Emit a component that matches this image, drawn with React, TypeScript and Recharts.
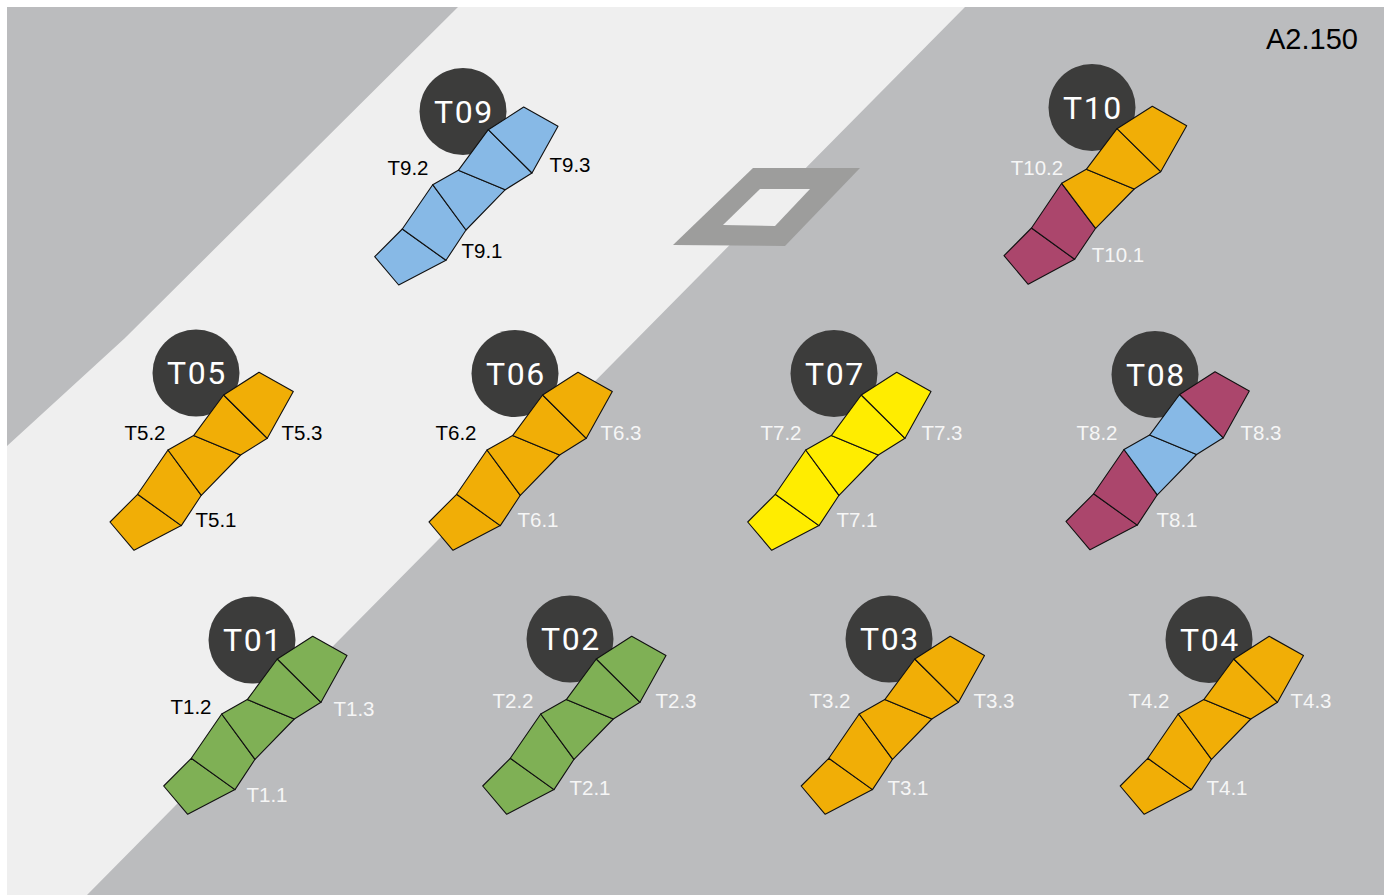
import React from "react";
import { ScatterChart, Scatter, XAxis, YAxis } from "recharts";

type Pt = { x: number; y: number };

const width = 1389;
const height = 895;

const GRAY = "#bbbcbe";
const LIGHT = "#efefef";
const FRAME = "#9d9d9c";
const DARK = "#3c3c3b";
const COLORS: Record<string, string> = {
  blue: "#87b9e6",
  orange: "#f1ae06",
  green: "#7fb055",
  yellow: "#ffed00",
  maroon: "#ab466c"
};

// ground shapes
const groundArea: Pt[] = [
  { x: 7, y: 7 }, { x: 1384, y: 7 }, { x: 1384, y: 895 }, { x: 7, y: 895 }
];
const lightStripe: Pt[] = [
  { x: 458, y: 7 }, { x: 965, y: 7 }, { x: 87, y: 895 }, { x: 7, y: 895 }, { x: 7, y: 446 }, { x: 125, y: 338 }
];
const frameOuter: Pt[] = [
  { x: 753, y: 168 }, { x: 860, y: 168 }, { x: 785, y: 246 }, { x: 673, y: 245 }
];
const frameInner: Pt[] = [
  { x: 760, y: 189 }, { x: 810, y: 189 }, { x: 775, y: 226 }, { x: 723, y: 225 }
];

// outline corners of a tile strip, lower left to upper right
const stripOutline: Pt[] = [
  { x: 0, y: 0 }, { x: 24, y: 28.3 }, { x: 71.3, y: 3.6 }, { x: 27.6, y: -27.7 },
  { x: 91.3, y: -26.7 }, { x: 58, y: -72 }, { x: 130.6, y: -67 }, { x: 83.6, y: -86.4 },
  { x: 157.3, y: -83.7 }, { x: 113.6, y: -127 }, { x: 149, y: -149.7 }, { x: 183.3, y: -130.4 }
];
const stripOutlineT10: Pt[] = [
  { x: 0, y: 0 }, { x: 24.2, y: 28.6 }, { x: 70.7, y: 3.6 }, { x: 27.5, y: -27.7 },
  { x: 91.6, y: -27.4 }, { x: 57.7, y: -72.4 }, { x: 130.2, y: -66.7 }, { x: 82.3, y: -86.4 },
  { x: 156.7, y: -84 }, { x: 113, y: -127 }, { x: 148.3, y: -149.4 }, { x: 182.7, y: -130 }
];
const tileCorners = [
  [0, 1, 2, 3],
  [3, 2, 4, 5],
  [5, 4, 6, 7],
  [7, 6, 8, 9],
  [9, 8, 11, 10]
];

const blockNames = ["T09", "T10", "T05", "T06", "T07", "T08", "T01", "T02", "T03", "T04"];
const blockLeft = [374.7, 1004, 110, 429, 747.7, 1066, 163.7, 482.7, 801.2, 1120.2];
const blockBottom = [256.7, 255.7, 522, 522, 522, 521.5, 786, 786, 786, 786];
const blockTiles = [
  ["blue", "blue", "blue", "blue", "blue"],
  ["maroon", "maroon", "orange", "orange", "orange"],
  ["orange", "orange", "orange", "orange", "orange"],
  ["orange", "orange", "orange", "orange", "orange"],
  ["yellow", "yellow", "yellow", "yellow", "yellow"],
  ["maroon", "maroon", "blue", "blue", "maroon"],
  ["green", "green", "green", "green", "green"],
  ["green", "green", "green", "green", "green"],
  ["orange", "orange", "orange", "orange", "orange"],
  ["orange", "orange", "orange", "orange", "orange"]
];
const badgeX = [463, 1092, 196, 515, 834, 1155, 252, 570, 889, 1209];
const badgeY = [111.5, 107.5, 373, 373.5, 373.5, 374.5, 640, 639, 639, 639.5];

const darkLabels = [
  { x: 408, y: 168, text: "T9.2" }, { x: 570, y: 165, text: "T9.3" }, { x: 482, y: 251, text: "T9.1" },
  { x: 145, y: 433, text: "T5.2" }, { x: 302, y: 433, text: "T5.3" }, { x: 216, y: 520, text: "T5.1" },
  { x: 456, y: 433, text: "T6.2" }, { x: 191, y: 707, text: "T1.2" }
];
const lightLabels = [
  { x: 1037, y: 168, text: "T10.2" }, { x: 1118, y: 255, text: "T10.1" },
  { x: 621, y: 433, text: "T6.3" }, { x: 538, y: 520, text: "T6.1" },
  { x: 781, y: 433, text: "T7.2" }, { x: 942, y: 433, text: "T7.3" }, { x: 857, y: 520, text: "T7.1" },
  { x: 1097, y: 433, text: "T8.2" }, { x: 1261, y: 433, text: "T8.3" }, { x: 1177, y: 520, text: "T8.1" },
  { x: 354, y: 709, text: "T1.3" }, { x: 267, y: 795, text: "T1.1" },
  { x: 513, y: 701, text: "T2.2" }, { x: 676, y: 701, text: "T2.3" }, { x: 590, y: 788, text: "T2.1" },
  { x: 830, y: 701, text: "T3.2" }, { x: 994, y: 701, text: "T3.3" }, { x: 908, y: 788, text: "T3.1" },
  { x: 1149, y: 701, text: "T4.2" }, { x: 1311, y: 701, text: "T4.3" }, { x: 1227, y: 788, text: "T4.1" }
];
const cornerLabel = [{ x: 1312, y: 39, text: "A2.150" }];

const badges = blockNames.map((name, i) => ({ x: badgeX[i], y: badgeY[i], text: name }));

const tiles = blockNames.flatMap((name, b) => {
  const outline = name === "T10" ? stripOutlineT10 : stripOutline;
  return tileCorners.map((corners, t) => ({
    key: `${name}-${t}`,
    color: COLORS[blockTiles[b][t]],
    points: corners.map((c) => ({ x: blockLeft[b] + outline[c].x, y: blockBottom[b] + outline[c].y }))
  }));
});

const NoDot = () => <g />;

const BadgeDot = (props: any) => <circle cx={props.cx} cy={props.cy} r={43.5} fill={DARK} />;

// the series' line gets its points already through the axis scales
const polygonLine = (fill: string, stroke = "none") => (props: any) => (
  <polygon
    points={props.points.map((p: Pt) => `${p.x},${p.y}`).join(" ")}
    fill={fill}
    stroke={stroke}
    strokeWidth={1.1}
    strokeLinejoin="round"
  />
);

const textMark = (fontFamily: string, fontSize: number, fill: string, fontWeight = 400, spacing = 0, dx = 0, dy = 0) => (props: any) => (
  <text
    x={props.cx}
    y={props.cy}
    dx={dx}
    dy={dy}
    textAnchor="middle"
    dominantBaseline="central"
    fontFamily={fontFamily}
    fontSize={fontSize}
    fontWeight={fontWeight}
    letterSpacing={spacing}
    fill={fill}
  >
    {props.payload.text}
  </text>
);

const Area = (data: Pt[], fill: string, name: string) => (
  <Scatter key={name} data={data} line={polygonLine(fill)} shape={NoDot} isAnimationActive={false} />
);

export default function App() {
  return (
    <div style={{ position: "absolute", left: 0, top: 0, width, height, overflow: "hidden" }}>
      <ScatterChart width={width} height={height} margin={{ top: 0, right: 0, bottom: 0, left: 0 }}>
        <XAxis type="number" dataKey="x" domain={[0, width]} hide />
        <YAxis type="number" dataKey="y" domain={[0, height]} reversed hide />
        {Area(groundArea, GRAY, "ground")}
        {Area(lightStripe, LIGHT, "stripe")}
        {Area(frameOuter, FRAME, "frame")}
        {Area(frameInner, LIGHT, "hole")}
        <Scatter data={badges} shape={BadgeDot} isAnimationActive={false} />
        <Scatter
          data={badges}
          shape={textMark("Roboto", 32, "#ffffff", 400, 1.6, 1)}
          isAnimationActive={false}
        />
        {tiles.map((t) => (
          <Scatter
            key={t.key}
            data={t.points}
            line={polygonLine(t.color, "#111111")}
            shape={NoDot}
            isAnimationActive={false}
          />
        ))}
        <Scatter data={darkLabels} shape={textMark("Liberation Sans", 20.5, "#000000", 400, 0, 0, -1)} isAnimationActive={false} />
        <Scatter data={lightLabels} shape={textMark("Liberation Sans", 20.5, "#f6f6f6", 400, 0, 0, -1)} isAnimationActive={false} />
        <Scatter data={cornerLabel} shape={textMark("Liberation Sans", 29, "#000000")} isAnimationActive={false} />
      </ScatterChart>
    </div>
  );
}
